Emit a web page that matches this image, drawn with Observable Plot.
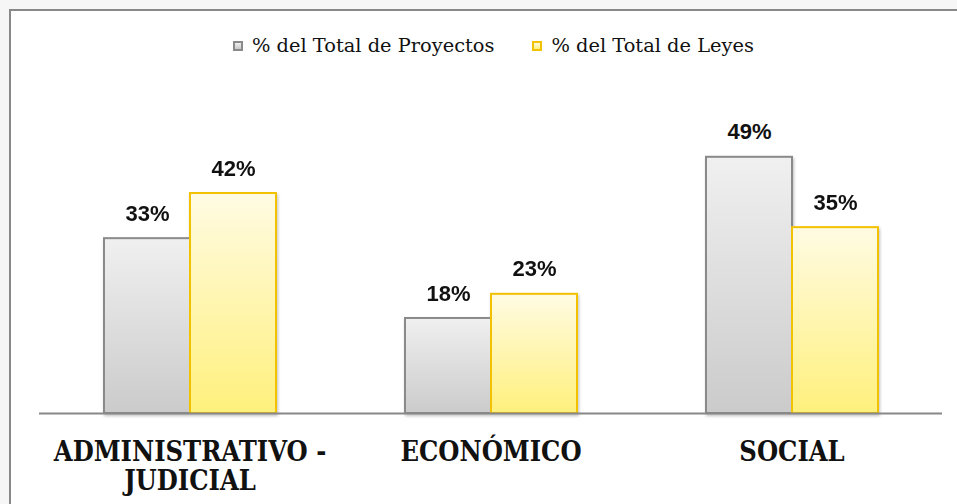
<!DOCTYPE html>
<html>
<head>
<meta charset="utf-8">
<script src="https://cdn.jsdelivr.net/npm/d3@7"></script>
<script src="https://cdn.jsdelivr.net/npm/@observablehq/plot@0.6"></script>
<style>
  html, body { margin: 0; padding: 0; background: #f6f6f6; }
  #wrap { position: relative; width: 957px; height: 504px; overflow: hidden; background: #f6f6f6; }
  #frame { position: absolute; left: 9px; top: 9px; width: 1000px; height: 600px; background: #fff; border-left: 2px solid #888; border-top: 2px solid #888; }
  #chart { position: absolute; left: 0; top: 0; }
  #legend { position: absolute; top: 34px; left: 233px; display: flex; font-family: "DejaVu Serif", serif; font-size: 19.4px; color: #111; white-space: nowrap; }
  .item { display: flex; align-items: center; }
  .sw { width: 10px; height: 10px; margin-right: 9px; box-sizing: border-box; }
</style>
</head>
<body>
<div id="wrap">
  <div id="frame"></div>
  <div id="chart"></div>
  <div id="legend"></div>
</div>
<script>
const categories = ["ADMINISTRATIVO - JUDICIAL", "ECONÓMICO", "SOCIAL"];
const categoryLabels = ["ADMINISTRATIVO -\nJUDICIAL", "ECONÓMICO", "SOCIAL"];
const seriesNames = ["% del Total de Proyectos", "% del Total de Leyes"];
const proyectos = [33.3, 18.1, 48.8];
const leyes = [41.9, 22.7, 35.4];
const fills = ["url(#gGray)", "url(#gYellow)"];
const strokes = ["#8a8a8a", "#f2c100"];

const data = [];
categories.forEach((c, i) => {
  data.push({cat: c, series: seriesNames[0], value: proyectos[i]});
  data.push({cat: c, series: seriesNames[1], value: leyes[i]});
});

const chart = Plot.plot({
  width: 957,
  height: 504,
  marginLeft: 38,
  marginRight: 15,
  marginTop: 98,
  marginBottom: 91,
  style: {background: "transparent", overflow: "visible"},
  fx: {domain: categories, padding: 0},
  x: {domain: seriesNames, paddingInner: 0, paddingOuter: 0.75, axis: null},
  y: {domain: [0, 60], axis: null},
  marks: [
    Plot.barY(data, {
      fx: "cat", x: "series", y: "value",
      fill: d => fills[seriesNames.indexOf(d.series)],
      stroke: d => strokes[seriesNames.indexOf(d.series)],
      strokeWidth: 2, inset: 0
    }),
    Plot.text(data, {
      fx: "cat", x: "series", y: "value",
      text: d => Math.round(d.value) + "%",
      dy: -25,
      fontFamily: "Liberation Sans, Arial, sans-serif",
      fontWeight: "bold",
      fontSize: 22,
      fill: "#111"
    }),
    Plot.ruleY([0], {stroke: "#888", strokeWidth: 2}),
    Plot.axisFx({
      anchor: "bottom",
      tickSize: 0,
      tickPadding: 26,
      label: null,
      tickFormat: d => categoryLabels[categories.indexOf(d)],
      fontFamily: "DejaVu Serif Condensed, DejaVu Serif, serif",
      fontWeight: "bold",
      fontSize: 27,
      lineHeight: 1.1,
      fill: "#111"
    })
  ]
});

// gradients and shadow
const svg = d3.select(chart);
const defs = svg.insert("defs", ":first-child");
const gg = defs.append("linearGradient").attr("id", "gGray").attr("x1", 0).attr("y1", 0).attr("x2", 0).attr("y2", 1);
gg.append("stop").attr("offset", "0%").attr("stop-color", "#f0f0f0");
gg.append("stop").attr("offset", "100%").attr("stop-color", "#cbcbcb");
const gy = defs.append("linearGradient").attr("id", "gYellow").attr("x1", 0).attr("y1", 0).attr("x2", 0).attr("y2", 1);
gy.append("stop").attr("offset", "0%").attr("stop-color", "#fffbe3");
gy.append("stop").attr("offset", "100%").attr("stop-color", "#fff07c");
const f = defs.append("filter").attr("id", "shadow").attr("x", "-10%").attr("y", "-10%").attr("width", "130%").attr("height", "130%");
f.append("feDropShadow").attr("dx", 1).attr("dy", 2).attr("stdDeviation", 1.5).attr("flood-color", "#000").attr("flood-opacity", 0.25);
svg.selectAll("g[aria-label='bar']").attr("filter", "url(#shadow)");

document.getElementById("chart").appendChild(chart);

// legend
const legend = document.getElementById("legend");
seriesNames.forEach((s, i) => {
  const it = document.createElement("div");
  it.className = "item";
  if (i > 0) it.style.marginLeft = "38px";
  const sw = document.createElement("div");
  sw.className = "sw";
  sw.style.background = i === 0 ? "linear-gradient(#f0f0f0,#c8c8c8)" : "linear-gradient(#fffbe3,#fff07c)";
  sw.style.border = "2px solid " + strokes[i];
  const t = document.createElement("span");
  t.textContent = s;
  it.appendChild(sw); it.appendChild(t);
  legend.appendChild(it);
});
</script>
</body>
</html>
